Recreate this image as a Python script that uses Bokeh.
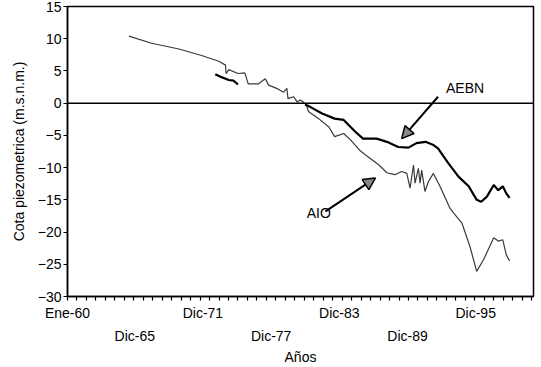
from bokeh.plotting import figure
from bokeh.models import (FixedTicker, LinearAxis, Range1d, Span, Arrow,
                          NormalHead, Label)
from bokeh.embed import file_html
from bokeh.resources import INLINE

nan = float("nan")

# Piezometric level (m.s.n.m.) versus time (decimal years)
aio_t = [1965.4, 1967.4, 1969.8, 1971.8, 1973.3, 1973.9, 1973.95, 1974.2, 1975.0,
         1975.6, 1975.9, 1976.8, 1977.4, 1977.7, 1978.4, 1979.0, 1979.3, 1979.4,
         1979.9, 1980.2, 1980.5, 1981.0, 1981.2, 1982.1, 1983.0, 1983.5, 1984.3,
         1984.9, 1985.7, 1986.2, 1987.4, 1988.1, 1988.8, 1989.4, 1989.85, 1990.14,
         1990.44, 1990.58, 1990.87, 1991.02, 1991.16, 1991.45, 1991.75, 1992.19,
         1992.77, 1993.65, 1994.0, 1994.7, 1995.4,
         1996.0, 1996.6, 1997.5, 1997.9, 1998.3, 1998.6, 1998.9]
aio_z = [10.4, 9.3, 8.4, 7.4, 6.5, 5.9, 4.6, 5.2, 4.6,
         4.7, 3.0, 3.0, 3.8, 2.8, 2.3, 1.7, 2.3, 0.7,
         1.0, 0.2, 0.5, -0.2, -1.3, -2.4, -3.7, -5.2, -4.7,
         -5.7, -7.3, -8.0, -9.6, -10.8, -11.1, -10.6, -10.9, -13.2,
         -9.6, -12.4, -10.1, -12.4, -10.4, -13.7, -12.2, -10.9,
         -12.9, -16.3, -17.1, -18.6, -22.2,
         -26.1, -24.3, -20.9, -21.4, -21.2, -23.5, -24.5]

aebn_t = [1973.0, 1973.6, 1974.2, 1974.6, 1975.0, nan,
          1980.9, 1981.34, 1982.4, 1983.5, 1984.3, 1985.3, 1986.0, 1987.2,
          1988.1, 1989.1, 1990.0, 1990.7, 1991.5, 1992.2, 1992.6, 1993.5,
          1994.4, 1995.3, 1996.0, 1996.4, 1996.9, 1997.5, 1997.9, 1998.3,
          1998.6, 1998.9]
aebn_z = [4.5, 4.0, 3.6, 3.5, 2.9, nan,
          -0.2, -0.57, -1.6, -2.4, -2.6, -4.4, -5.5, -5.5,
          -6.0, -6.8, -6.9, -6.2, -6.0, -6.5, -7.0, -9.3,
          -11.4, -12.9, -15.0, -15.3, -14.5, -12.7, -13.5, -12.9,
          -14.0, -14.7]

# Date labels: (text, year, month), staggered on two rows
row1_labels = [("Ene-60", 1960, 1), ("Dic-71", 1971, 12), ("Dic-83", 1983, 12), ("Dic-95", 1995, 12)]
row2_labels = [("Dic-65", 1965, 12), ("Dic-77", 1977, 12), ("Dic-89", 1989, 12)]
y_ticks = [-30, -25, -20, -15, -10, -5, 0, 5, 10, 15]

FONT = "Liberation Sans"
INK = "black"


def dec_year(y, m):
    return y + (m - 1) / 12.0


p = figure(width=541, height=367, x_range=Range1d(1960, 2001), y_range=Range1d(-30, 15),
           output_backend="svg", toolbar_location=None,
           min_border_left=67, min_border_right=8, min_border_top=6, min_border_bottom=70)
p.xgrid.visible = False
p.ygrid.visible = False
p.outline_line_color = INK
p.outline_line_width = 1.5
p.background_fill_color = "white"
p.border_fill_color = "white"

# y axis
ya = p.yaxis[0]
ya.ticker = FixedTicker(ticks=y_ticks, minor_ticks=[])
ya.major_tick_out = 4
ya.major_tick_in = 0
ya.major_tick_line_color = INK
ya.major_label_standoff = 2
ya.axis_line_color = INK
ya.axis_line_width = 1.5
ya.axis_label = "Cota piezometrica (m.s.n.m.)"
ya.axis_label_text_font = FONT
ya.axis_label_text_font_size = "14px"
ya.axis_label_text_font_style = "normal"
ya.axis_label_text_color = INK
ya.axis_label_standoff = 8
ya.major_label_text_font = FONT
ya.major_label_text_font_size = "14px"
ya.major_label_text_color = INK

# x axis, first row of labels plus ticks every ten months
minor = [1960 + k * 10 / 12.0 for k in range(0, 50)]
xa = p.xaxis[0]
r1_pos = [dec_year(y, m) for _, y, m in row1_labels]
xa.ticker = FixedTicker(ticks=r1_pos, minor_ticks=minor)
xa.major_label_overrides = {pos: txt for pos, (txt, _, _) in zip(r1_pos, row1_labels)}
xa.major_tick_line_color = None
xa.major_tick_out = 4
xa.major_tick_in = 0
xa.minor_tick_out = 4
xa.minor_tick_in = 0
xa.minor_tick_line_color = INK
xa.minor_tick_line_width = 1.2
xa.axis_line_color = INK
xa.axis_line_width = 1.5
xa.major_label_standoff = 4
xa.major_label_text_font = FONT
xa.major_label_text_font_size = "14px"
xa.major_label_text_color = INK

# second row of date labels and the axis title
r2_pos = [dec_year(y, m) for _, y, m in row2_labels]
xb = LinearAxis(ticker=FixedTicker(ticks=r2_pos, minor_ticks=[]))
xb.major_label_overrides = {pos: txt for pos, (txt, _, _) in zip(r2_pos, row2_labels)}
xb.axis_line_color = None
xb.major_tick_line_color = None
xb.minor_tick_line_color = None
xb.major_tick_out = 0
xb.major_tick_in = 0
xb.minor_tick_out = 0
xb.minor_tick_in = 0
xb.major_label_standoff = 4
xb.major_label_text_font = FONT
xb.major_label_text_font_size = "14px"
xb.major_label_text_color = INK
xb.axis_label = "Años"
xb.axis_label_text_font = FONT
xb.axis_label_text_font_size = "14px"
xb.axis_label_text_font_style = "normal"
xb.axis_label_text_color = INK
xb.axis_label_standoff = 2
p.add_layout(xb, "below")

# zero reference
p.add_layout(Span(location=0, dimension="width", line_color=INK, line_width=1.5))

# series
p.line(aio_t, aio_z, line_color="#3a3a3a", line_width=1.2)
p.line(aebn_t, aebn_z, line_color=INK, line_width=2.2)

# annotations
p.add_layout(Arrow(end=NormalHead(size=12, fill_color="#888888", line_color=INK, line_width=1.5),
                   x_start=1992.6, y_start=1.0, x_end=1989.4, y_end=-5.5,
                   line_color=INK, line_width=2))
p.add_layout(Arrow(end=NormalHead(size=12, fill_color="#888888", line_color=INK, line_width=1.5),
                   x_start=1982.7, y_start=-16.8, x_end=1987.1, y_end=-11.6,
                   line_color=INK, line_width=2))
p.add_layout(Label(x=1993.3, y=2.3, text="AEBN", text_font=FONT, text_font_size="14px",
                   text_color=INK, text_baseline="middle", text_align="left"))
p.add_layout(Label(x=1981.05, y=-17.1, text="AIO", text_font=FONT, text_font_size="14px",
                   text_color=INK, text_baseline="middle", text_align="left"))

open("out.html", "w").write(file_html(p, INLINE))
